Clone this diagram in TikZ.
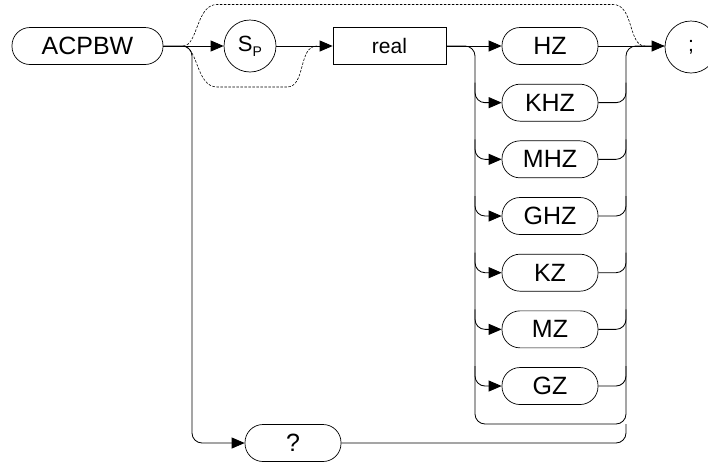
\documentclass[tikz,border=0pt]{standalone}
\usepackage{fontspec}
\setmainfont{Liberation Sans}
\usetikzlibrary{arrows.meta,calc}
\begin{document}
\begin{tikzpicture}[x=1pt,y=-1pt,
  conn/.style={line width=0.85pt, rounded corners=10pt},
  arr/.style={-{Triangle[length=13pt,width=11pt]}},
  dsh/.style={line width=0.6pt, dashed, dash pattern=on 2.5pt off 1.5pt},
  pill/.style={draw, line width=0.7pt, rectangle, rounded corners=18pt, minimum height=37pt, inner sep=0pt, font=\fontsize{25}{25}\selectfont},
  unit/.style={pill, minimum width=96pt},
  circ/.style={draw, line width=0.7pt, circle, inner sep=0pt},
  box/.style={draw, line width=0.7pt, rectangle, minimum width=113pt, minimum height=37pt, inner sep=0pt, font=\fontsize{21}{21}\selectfont}
]
\useasboundingbox (0,0) rectangle (708,461);
% nodes
\node[pill, minimum width=151pt] (acp) at (87.5,46) {ACPBW};
\node[circ, minimum size=52pt, font=\fontsize{22}{22}\selectfont] (sp) at (250,46) {S\raisebox{-5pt}{\fontsize{14}{14}\selectfont P}};
\node[box] (real) at (389.5,46) {real};
\node[circ, minimum size=52pt, font=\fontsize{21}{21}\selectfont] (semi) at (691,47) {;};
\node[pill, minimum width=96pt] (q) at (293,443) {?};
\foreach \t [count=\i from 0] in {HZ,KHZ,MHZ,GHZ,KZ,MZ,GZ} {
  \pgfmathsetmacro\yy{46+56.67*\i}
  \node[unit] (u\i) at (550,\yy) {\t};
}
% bus coordinates
\coordinate (J) at (183,46);
\coordinate (V) at (192,46);
\coordinate (L) at (475,46);
\coordinate (R) at (626,46);
\coordinate (LB) at (475,424);
\coordinate (RB) at (626,424);
\coordinate (RQ) at (626,443);
\coordinate (M) at (317,46);
\coordinate (E) at (645,46);
% main line
\draw[conn, arr] (acp.east) -- (sp.west);
\draw[conn, arr] (sp.east) -- (real.west);
\draw[conn, arr] (real.east) -- (u0.west);
\draw[conn, arr] (u0.east) -- (semi.west |- u0.east);
% query path
\draw[conn, arr] (acp.east) -- (V) -- (V |- q.west) -- (q.west);
\draw[conn] (q.east) -- (RQ) -- (RB);
% unit bus
\draw[conn] (real.east) -- (L) -- (LB) -- (RB) -- (R) -- (semi.west |- R);
\foreach \i in {1,...,6} {
  \draw[conn, arr] ($(u\i.west -| L)+(0,-20)$) -- (u\i.west -| L) -- (u\i.west);
  \draw[conn] (u\i.east) -- (u\i.east -| R) -- ($(u\i.east -| R)+(0,-20)$);
}
% dashed bypasses
\draw[dsh] (J) .. controls (198,46) and (196,4.5) .. (217,4.5) -- (613,4.5) .. controls (634,4.5) and (628,46) .. (E);
\draw[dsh] (J) .. controls (198,46) and (196,87) .. (217,87) -- (287,87) .. controls (306,87) and (298,46) .. (M);
\end{tikzpicture}
\end{document}
